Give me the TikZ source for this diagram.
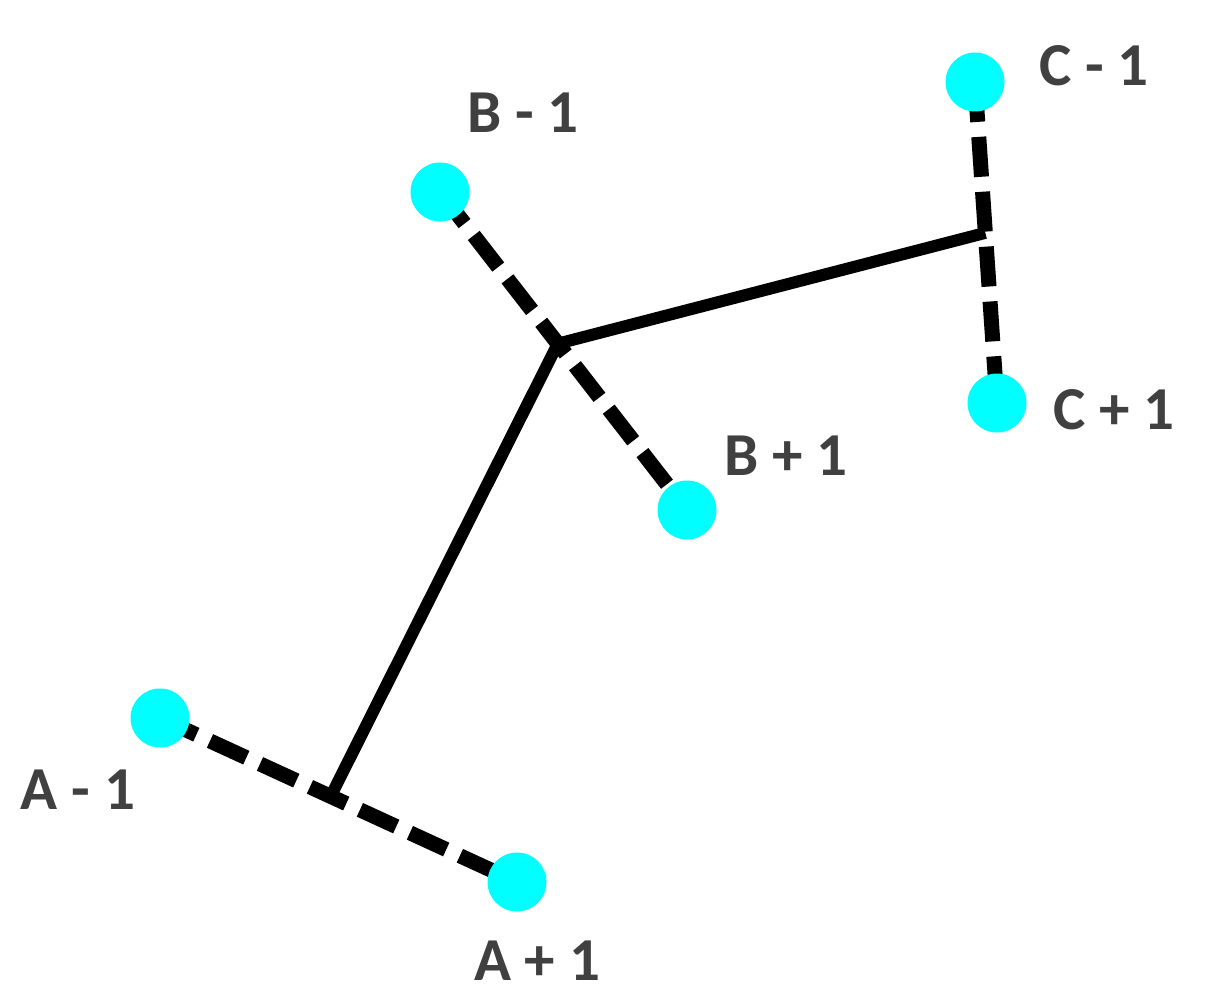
\documentclass[tikz,border=0pt]{standalone}
\usepackage{fontspec}
\setmainfont{Carlito}
\usetikzlibrary{calc,backgrounds}
\definecolor{dotcyan}{RGB}{0,255,255}
\definecolor{labelgray}{RGB}{64,64,64}
\tikzset{
  dot/.style={circle,fill=dotcyan,inner sep=0pt,minimum size=59pt},
  lbl/.style={text=labelgray,font=\fontsize{61}{61}\selectfont\bfseries,inner sep=0pt},
  pairline/.style={line width=15pt,dash pattern=on 40pt off 15pt},
  linkline/.style={line width=12pt,line join=miter}
}
\begin{document}
\begin{tikzpicture}[x=1pt,y=-1pt]
\useasboundingbox (0,0) rectangle (1223,995);
\node[dot] (B1) at (440,192) {};
\node[dot] (B2) at (687,510) {};
\node[dot] (C1) at (975,82) {};
\node[dot] (C2) at (997,403) {};
\node[dot] (A1) at (160,718) {};
\node[dot] (A2) at (517,882) {};
\coordinate (jB) at ($(B1.center)!0.477!(B2.center)$);
\coordinate (jC) at ($(C1.center)!0.47!(C2.center)$);
\coordinate (jA) at ($(A1.center)!0.478!(A2.center)$);
\begin{scope}[on background layer]
\draw[pairline] (B1.center) -- (B2.center);
\draw[pairline] (C1.center) -- (C2.center);
\draw[pairline] (A1.center) -- (A2.center);
\draw[linkline] (jC) -- (jB) -- (jA);
\end{scope}
\node[lbl] (lB1) at (523,113) {B - 1};
\node[lbl] (lB2) at (786,456) {B + 1};
\node[lbl] (lC1) at (1094,66) {C - 1};
\node[lbl] (lC2) at (1114,410) {C + 1};
\node[lbl] (lA1) at (78,790) {A - 1};
\node[lbl] (lA2) at (537,961) {A + 1};
\end{tikzpicture}
\end{document}
